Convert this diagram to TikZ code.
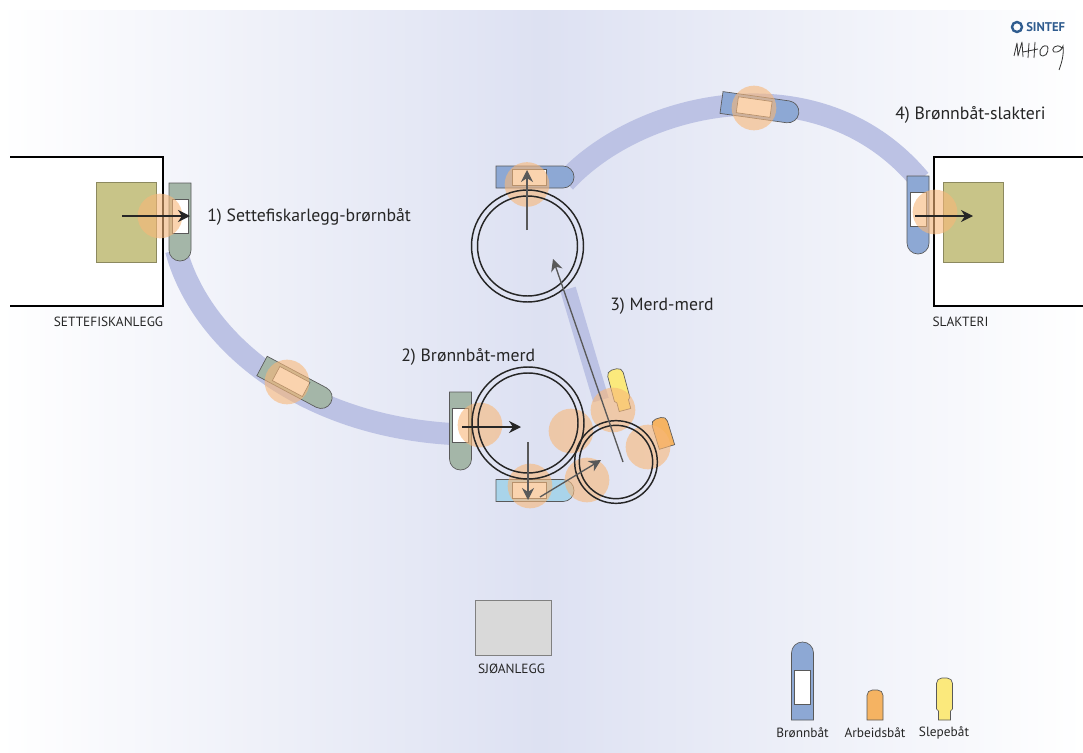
\documentclass[tikz,border=0pt]{standalone}
\usepackage{fontspec}
\usetikzlibrary{arrows.meta}
\setmainfont{PT Sans}
\definecolor{bgmid}{HTML}{DDE1F2}
\definecolor{route}{HTML}{BCC2E4}
\definecolor{olive}{HTML}{C8C488}
\definecolor{peach}{HTML}{F8B778}
\definecolor{hullgreen}{HTML}{A4B6A8}
\definecolor{hullblue}{HTML}{8DA8D4}
\definecolor{hullsky}{HTML}{A9D4EA}
\definecolor{hullorange}{HTML}{F5B362}
\definecolor{hullyellow}{HTML}{FBE97C}
\definecolor{sintef}{HTML}{2F5C8F}

\tikzstyle{lane} = [route, line width=16.5pt]
\tikzstyle{site} = [draw=black, line width=1pt]
\tikzstyle{cage} = [draw=olive!70!black, fill=olive, minimum width=45pt, minimum height=60pt, inner sep=0pt]
\tikzstyle{hull} = [draw=black!65, line width=.5pt]
\tikzstyle{disc} = [circle, fill=peach, fill opacity=.6, minimum size=33.5pt, inner sep=0pt]
\tikzstyle{pen} = [circle, draw=black!85, line width=1.1pt, inner sep=0pt]
\tikzstyle{flow} = [black!85, line width=1pt, -{Stealth[length=9pt,width=9pt]}]
\tikzstyle{thinflow} = [black!65, line width=1pt, -{Stealth[length=9pt,width=9pt]}]
\tikzstyle{lbl} = [font=\fontsize{13.3}{15}\selectfont, text=black!85, inner sep=0pt, anchor=west]
\tikzstyle{caption} = [font=\fontsize{10}{12}\selectfont, text=black!85, inner sep=0pt]

\tikzset{
  pics/wellboat/.style={code={
    \draw[hull, fill=#1] (0,-11) [rounded corners=8.2pt] -- (78,-11) -- (78,11) [sharp corners] -- (0,11) -- cycle;
    \draw[hull, fill=white] (16,-8) rectangle (50,8);
  }},
  pics/workboat/.style={code={
    \draw[hull, fill=hullorange] (0,-8) [rounded corners=4pt] -- (30,-8) -- (30,8) [sharp corners] -- (0,8) -- cycle;
  }},
  pics/towboat/.style={code={
    \draw[hull, fill=hullyellow] (0,-6) -- (9,-6) -- (11,-8) [rounded corners=4pt] -- (42,-8) -- (42,8) [sharp corners] -- (11,8) -- (9,6) -- (0,6) -- cycle;
  }},
}

\begin{document}
\begin{tikzpicture}[x=.75pt, y=-.75pt]
\useasboundingbox (0,0) rectangle (1083,753);
% background
\fill[white] (0,0) rectangle (1083,753);
\shade[left color=white, right color=bgmid] (0,10) rectangle (540,753);
\shade[left color=bgmid, right color=white] (540,10) rectangle (1083,753);

% routes
\draw[lane] (176,250) .. controls (200,340) and (300,425) .. (452,434);
\draw[lane] (565,182) .. controls (640,100) and (820,60) .. (920,180);
\draw[route, line width=12pt] (568,289) -- (601,400);

% sites
\fill[white] (0,157) rectangle (163,306);
\draw[site] (10,157) -- (163,157) -- (163,306) -- (10,306);
\fill[white] (934,157) rectangle (1083,306);
\draw[site] (1083,157) -- (934,157) -- (934,306) -- (1083,306);
\node[cage] (cageL) at (126,222) {};
\node[cage] (cageR) at (973.5,222) {};
\node[draw=black!50, fill=black!15, minimum width=57pt, minimum height=41pt, inner sep=0pt] (store) at (513,627.5) {};

% boats
\pic at (180,183) [rotate=-90] {wellboat=hullgreen};
\pic at (262,366) [rotate=-28] {wellboat=hullgreen};
\pic at (460.5,392) [rotate=-90] {wellboat=hullgreen};
\pic at (496,490.5) {wellboat=hullsky};
\pic at (496,177) {wellboat=hullblue};
\pic at (721.5,102.5) [rotate=-8] {wellboat=hullblue};
\pic at (918,176) [rotate=-90] {wellboat=hullblue};
\pic at (625,410) [rotate=105] {towboat};
\pic at (667,447) [rotate=107] {workboat};

% lifting zones
\node[disc] (z1) at (160,216) {};
\node[disc] (z2) at (287,382) {};
\node[disc] (z3) at (480,425) {};
\node[disc] (z4) at (530,486) {};
\node[disc] (z5) at (571,431) {};
\node[disc] (z6) at (613,410) {};
\node[disc] (z7) at (648,447) {};
\node[disc] (z8) at (587,480) {};
\node[disc] (z9) at (527,184.5) {};
\node[disc] (z10) at (754,108) {};
\node[disc] (z11) at (935,212) {};

% pens
\node[pen, minimum size=84pt] (penA) at (528,423) {};
\node[pen, minimum size=75pt] (penAi) at (528,423) {};
\node[pen, minimum size=62pt] (penB) at (616,462) {};
\node[pen, minimum size=55pt] (penBi) at (616,462) {};
\node[pen, minimum size=84pt] (penC) at (527.5,246) {};
\node[pen, minimum size=75pt] (penCi) at (527.5,246) {};

% arrows
\coordinate (a1) at (122,216);
\coordinate (a2) at (190,216);
\coordinate (b1) at (462,427);
\coordinate (b2) at (521,427);
\coordinate (c1) at (528,442);
\coordinate (c2) at (528,500);
\coordinate (d1) at (540,497);
\coordinate (d2) at (601,460);
\coordinate (e1) at (623,462);
\coordinate (e2) at (553,259);
\coordinate (f1) at (527,230);
\coordinate (f2) at (527,170);
\coordinate (g1) at (915,216);
\coordinate (g2) at (973,216);
\draw[flow] (a1) -- (a2);
\draw[flow] (b1) -- (b2);
\draw[thinflow] (c1) -- (c2);
\draw[thinflow] (d1) -- (d2);
\draw[thinflow] (e1) -- (e2);
\draw[thinflow] (f1) -- (f2);
\draw[flow] (g1) -- (g2);

% labels
\node[lbl] (t1) at (207,217) {1) Settefiskarlegg-brørnbåt};
\node[lbl] (t2) at (401,357) {2) Brønnbåt-merd};
\node[lbl] (t3) at (610,306) {3) Merd-merd};
\node[lbl] (t4) at (895,115) {4) Brønnbåt-slakteri};
\node[caption] (n1) at (108.5,322) {SETTEFISKANLEGG};
\node[caption] (n2) at (960.5,322) {SLAKTERI};
\node[caption] (n3) at (511.5,669) {SJØANLEGG};

% legend
\pic at (802.5,720) [rotate=90] {wellboat=hullblue};
\pic at (875,720) [rotate=90] {workboat};
\pic at (944.5,720) [rotate=90] {towboat};
\node[caption] (k1) at (802.5,733) {Brønnbåt};
\node[caption] (k2) at (875,733) {Arbeidsbåt};
\node[caption] (k3) at (944,733) {Slepebåt};

% logo and signature
\node[circle, draw=sintef, line width=1.8pt, minimum size=7.5pt, inner sep=0pt] (logo) at (1017,27) {};
\node[font=\fontsize{9.5}{11}\selectfont\bfseries, text=sintef, inner sep=0pt, anchor=west] (brand) at (1026,27) {SINTEF};
\draw[black!80, line width=.6pt, line join=round] (1014,56) -- (1017,43) -- (1018,56) -- (1022,42) -- (1023,57) (1023,52) -- (1038,49) (1029,43) -- (1028,58) (1035,42) -- (1034,58);
\draw[black!80, line width=.6pt] (1047,46) .. controls (1040,44) and (1037,56) .. (1043,56) .. controls (1048,56) and (1049,47) .. (1047,46);
\draw[black!80, line width=.6pt] (1062,48) .. controls (1056,42) and (1050,50) .. (1054,52) .. controls (1058,53) and (1062,50) .. (1063,46) .. controls (1064,54) and (1062,62) .. (1059,70);
\end{tikzpicture}
\end{document}
